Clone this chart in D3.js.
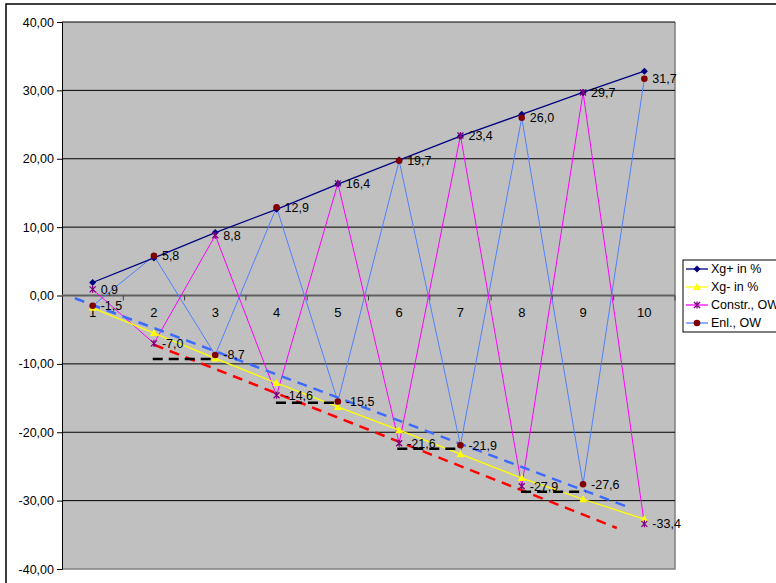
<!DOCTYPE html>
<html><head><meta charset="utf-8">
<script src="https://cdn.jsdelivr.net/npm/d3@7"></script>
<style>body{margin:0;background:#fff}svg{display:block}text{font-family:"Liberation Sans",Arial,sans-serif}</style>
</head><body>
<svg id="c" width="776" height="583"></svg>
<script>
const categories = [1,2,3,4,5,6,7,8,9,10];
const xgPlus  = [1.9, 5.5, 9.2, 12.6, 16.3, 19.8, 23.3, 26.5, 29.7, 32.8];
const xgMinus = [-1.8, -5.5, -9.2, -12.8, -16.3, -19.7, -23.2, -26.7, -29.8, -32.7];
const constrOW = [0.9, -7.0, 8.8, -14.6, 16.4, -21.6, 23.4, -27.9, 29.7, -33.4];
const enlOW    = [-1.5, 5.8, -8.7, 12.9, -15.5, 19.7, -21.9, 26.0, -27.6, 31.7];
const yTicks = [-40,-30,-20,-10,0,10,20,30,40];
const seriesNames = ["Xg+ in %","Xg- in %","Constr., OW","Enl., OW"];
// decorative dashed guide lines, in (category position, value)
const blueGuide = [[0.71,-0.4],[9.69,-30.8]];
const redGuide  = [[2.0,-7.2],[9.55,-34.0]];
const blackSteps = [[1.98,3.03,-9.3],[3.99,5.04,-15.7],[5.97,7.02,-22.4],[7.99,9.04,-28.7]];

const svg = d3.select("#c");
const L=62,R=675,T=22,B=569;
const xb = d3.scaleBand().domain(categories).range([L,R]);
const xp = d3.scaleLinear().domain([0.5,10.5]).range([L,R]);
const y = d3.scaleLinear().domain([-40,40]).range([B,T]);
const fmt2 = v => d3.format(".2f")(v).replace(".",",").replace("−","-");
const fmt1 = v => d3.format(".1f")(v).replace(".",",").replace("−","-");

// outer chart border
svg.append("rect").attr("x",6).attr("y",4).attr("width",900).attr("height",700)
  .attr("fill","#fff").attr("stroke","#000").attr("stroke-width",1.5);

// plot area
svg.append("rect").attr("x",L).attr("y",T).attr("width",R-L).attr("height",B-T).attr("fill","#c0c0c0");
svg.append("path").attr("d",`M${R},${T}V${B}H${L}`).attr("fill","none").attr("stroke","#808080").attr("stroke-width",1.5);

// gridlines
svg.append("g").selectAll("line").data(yTicks.filter(d=>d!==0 && d!==-40)).join("line")
  .attr("x1",L).attr("x2",R).attr("y1",d=>y(d)).attr("y2",d=>y(d)).attr("stroke","#000").attr("stroke-width",1);

// y axis
const ya = svg.append("g").attr("transform",`translate(${L},0)`)
  .call(d3.axisLeft(y).tickValues(yTicks).tickFormat(fmt2).tickSize(5).tickPadding(3));
ya.select(".domain").attr("stroke","#000");
ya.selectAll(".tick line").attr("stroke","#000");
ya.selectAll("text").attr("font-size",12.5).attr("fill","#000").attr("font-family","Liberation Sans, Arial, sans-serif");

// x axis at zero
const xa = svg.append("g").attr("transform",`translate(0,${y(0)})`);
xa.append("line").attr("x1",L).attr("x2",R).attr("stroke","#606060").attr("stroke-width",2);
xa.selectAll("line.tk").data(d3.range(1,11)).join("line").attr("class","tk")
  .attr("x1",d=>xp(d+0.5)).attr("x2",d=>xp(d+0.5)).attr("y1",0).attr("y2",5).attr("stroke","#404040");
xa.selectAll("text").data(categories).join("text")
  .attr("x",d=>xb(d)+xb.bandwidth()/2).attr("y",21).attr("text-anchor","middle")
  .attr("font-size",13).attr("fill","#000").text(d=>d);

const cx = i => xb(categories[i])+xb.bandwidth()/2;
const line = d3.line().x((d,i)=>cx(i)).y(d=>y(d));
const gl = d3.line().x(d=>xp(d[0])).y(d=>y(d[1]));

// series lines
svg.append("path").datum(enlOW).attr("d",line).attr("fill","none").attr("stroke","#5080ff").attr("stroke-width",1);
svg.append("path").datum(constrOW).attr("d",line).attr("fill","none").attr("stroke","#ff00ff").attr("stroke-width",1);
svg.append("path").datum(xgPlus).attr("d",line).attr("fill","none").attr("stroke","#000080").attr("stroke-width",1.3);
svg.append("path").datum(xgMinus).attr("d",line).attr("fill","none").attr("stroke","#ffff00").attr("stroke-width",1.3);

// guides
svg.append("path").datum(blueGuide).attr("d",gl).attr("stroke","#3d6bff").attr("stroke-width",2.5).attr("stroke-dasharray","10,7").attr("fill","none");
svg.append("path").datum(redGuide).attr("d",gl).attr("stroke","#ff0000").attr("stroke-width",2.5).attr("stroke-dasharray","10,7").attr("fill","none");
svg.append("g").selectAll("line").data(blackSteps).join("line")
  .attr("x1",d=>xp(d[0])).attr("x2",d=>xp(d[1])).attr("y1",d=>y(d[2])).attr("y2",d=>y(d[2]))
  .attr("stroke","#000").attr("stroke-width",2.5).attr("stroke-dasharray","10,6");

// markers
function diamond(g,x,yy){g.append("path").attr("d",`M${x},${yy-3.5}L${x+3.5},${yy}L${x},${yy+3.5}L${x-3.5},${yy}Z`).attr("fill","#000080");}
function tri(g,x,yy){g.append("path").attr("d",`M${x},${yy-4}L${x+4},${yy+3}L${x-4},${yy+3}Z`).attr("fill","#ffff00");}
function star(g,x,yy){g.append("path").attr("d",`M${x-3},${yy-3}L${x+3},${yy+3}M${x-3},${yy+3}L${x+3},${yy-3}M${x},${yy-3.5}V${yy+3.5}`).attr("stroke","#800080").attr("stroke-width",1.3).attr("fill","none");}
function dot(g,x,yy){g.append("circle").attr("cx",x).attr("cy",yy).attr("r",3.3).attr("fill","#800000");}
const mg = svg.append("g");
xgPlus.forEach((v,i)=>diamond(mg,cx(i),y(v)));
xgMinus.forEach((v,i)=>tri(mg,cx(i),y(v)));
constrOW.forEach((v,i)=>star(mg,cx(i),y(v)));
enlOW.forEach((v,i)=>dot(mg,cx(i),y(v)));

// data labels
const lg = svg.append("g").attr("font-size",12.5).attr("fill","#000");
[constrOW,enlOW].forEach(s=>s.forEach((v,i)=>{
  lg.append("text").attr("x",cx(i)+8).attr("y",y(v)).attr("dy","0.35em").text(fmt1(v));
}));

// legend
const leg = svg.append("g").attr("transform","translate(683,260)");
leg.append("rect").attr("width",120).attr("height",72).attr("fill","#fff").attr("stroke","#000").attr("stroke-width",1);
const lc = [["#000080",diamond],["#ffff00",tri],["#ff00ff",star],["#5080ff",dot]];
seriesNames.forEach((n,i)=>{
  const yy = 9+i*18;
  leg.append("line").attr("x1",3).attr("x2",25).attr("y1",yy).attr("y2",yy).attr("stroke",lc[i][0]).attr("stroke-width",1.3);
  lc[i][1](leg,14,yy);
  leg.append("text").attr("x",28).attr("y",yy).attr("dy","0.35em").attr("font-size",12.5).attr("fill","#000").text(n);
});
</script>
</body></html>
